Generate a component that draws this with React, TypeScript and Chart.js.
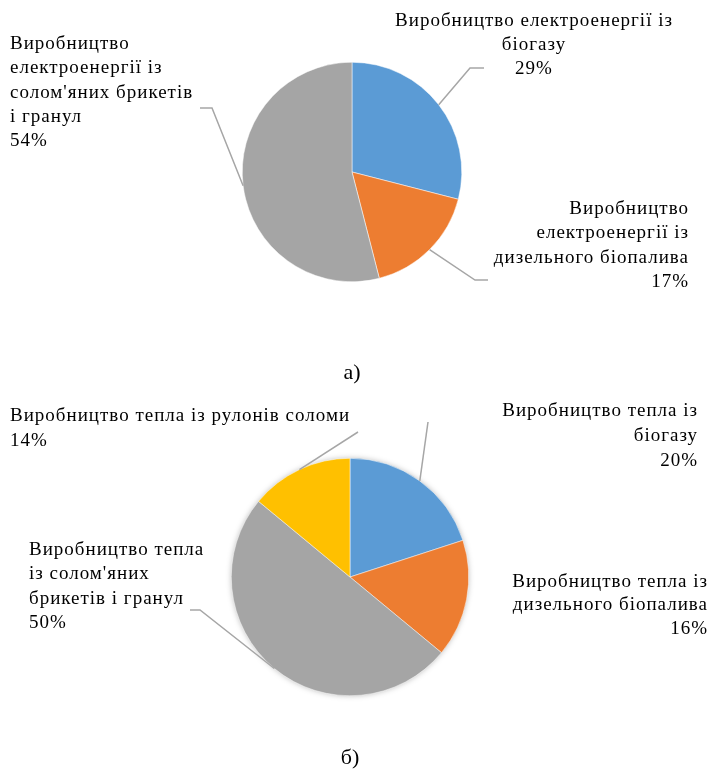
import React, { useEffect, useRef } from "react";
import { Chart, registerables } from "chart.js";

Chart.register(...registerables);

// ---- Data ----
const elecCategories: string[][] = [
  ["Виробництво електроенергії із", "біогазу"],
  ["Виробництво", "електроенергії із", "дизельного біопалива"],
  ["Виробництво", "електроенергії із", "солом'яних брикетів", "і гранул"],
];
const elecValues: number[] = [29, 17, 54];

const heatCategories: string[][] = [
  ["Виробництво тепла із", "біогазу"],
  ["Виробництво тепла із", "дизельного біопалива"],
  ["Виробництво тепла", "із солом'яних", "брикетів і гранул"],
  ["Виробництво тепла із рулонів соломи"],
];
const heatValues: number[] = [20, 16, 50, 14];

const elecColors = ["#5B9BD5", "#ED7D31", "#A5A5A5"];
const heatColors = ["#5B9BD5", "#ED7D31", "#A5A5A5", "#FFC000"];

const FONT = '19px "Liberation Serif", "Times New Roman", serif';

type LabelLayout = {
  align: CanvasTextAlign;
  x: number;
  y: number;
  lineHeight: number;
  leader?: { elbow: [number, number]; end: [number, number] };
};

// ---- Layout (canvas coordinates) ----
const elecLayout: LabelLayout[] = [
  { align: "center", x: 534, y: 21, lineHeight: 24, leader: { elbow: [470, 68], end: [484, 68] } },
  { align: "right", x: 689, y: 209, lineHeight: 24.5, leader: { elbow: [475, 280], end: [488, 280] } },
  { align: "left", x: 10, y: 44, lineHeight: 24.3, leader: { elbow: [212, 108], end: [200, 108] } },
];

const heatLayout: LabelLayout[] = [
  { align: "right", x: 698, y: 31, lineHeight: 25, leader: { elbow: [428, 42], end: [428, 42] } },
  { align: "right", x: 708, y: 202, lineHeight: 23.5 },
  { align: "left", x: 29, y: 170, lineHeight: 24.5, leader: { elbow: [200, 230], end: [190, 230] } },
  { align: "left", x: 10, y: 36, lineHeight: 25, leader: { elbow: [358, 52], end: [358, 52] } },
];

const pieShadowPlugin = {
  id: "pieShadow",
  beforeDatasetsDraw(chart: any, _args: any, opts: any) {
    if (!opts || !opts.enabled) return;
    const meta = chart.getDatasetMeta(0);
    const arc = meta.data[0];
    if (!arc) return;
    const p = arc.getProps(["x", "y", "outerRadius"], true);
    const ctx: CanvasRenderingContext2D = chart.ctx;
    ctx.save();
    ctx.shadowColor = "rgba(0,0,0,0.35)";
    ctx.shadowBlur = 6;
    ctx.beginPath();
    ctx.arc(p.x, p.y, p.outerRadius - 1, 0, Math.PI * 2);
    ctx.fillStyle = "#A5A5A5";
    ctx.fill();
    ctx.restore();
  },
};

const sliceLabelPlugin = {
  id: "sliceLabels",
  afterDraw(chart: any, _args: any, opts: any) {
    const ctx: CanvasRenderingContext2D = chart.ctx;
    const meta = chart.getDatasetMeta(0);
    const layout: LabelLayout[] = opts.layout || [];
    const cats: string[][] = opts.categories || [];
    const values: number[] = chart.data.datasets[0].data;
    ctx.save();
    layout.forEach((item, i) => {
      const arc = meta.data[i];
      if (!arc) return;
      const p = arc.getProps(["x", "y", "startAngle", "endAngle", "outerRadius"], true);
      const mid = (p.startAngle + p.endAngle) / 2;
      if (item.leader) {
        const sx = p.x + Math.cos(mid) * p.outerRadius;
        const sy = p.y + Math.sin(mid) * p.outerRadius;
        ctx.beginPath();
        ctx.strokeStyle = "#A6A6A6";
        ctx.lineWidth = 1.5;
        ctx.moveTo(sx, sy);
        ctx.lineTo(item.leader.elbow[0], item.leader.elbow[1]);
        ctx.lineTo(item.leader.end[0], item.leader.end[1]);
        ctx.stroke();
      }
      const lines = [...(cats[i] || []), `${values[i]}%`];
      ctx.font = FONT;
      (ctx as any).letterSpacing = "1px";
      ctx.fillStyle = "#000000";
      ctx.textAlign = item.align;
      ctx.textBaseline = "middle";
      lines.forEach((ln, k) => {
        ctx.fillText(ln, item.x, item.y + k * item.lineHeight);
      });
    });
    ctx.restore();
  },
};

function PieChart(props: {
  categories: string[][];
  values: number[];
  colors: string[];
  layout: LabelLayout[];
  shadow: boolean;
  width: number;
  height: number;
  padding: { left: number; right: number; top: number; bottom: number };
}) {
  const ref = useRef<HTMLCanvasElement | null>(null);
  useEffect(() => {
    if (!ref.current) return;
    const chart = new Chart(ref.current, {
      type: "pie",
      data: {
        labels: props.categories.map((c) => c.join(" ")),
        datasets: [
          {
            data: props.values,
            backgroundColor: props.colors,
            borderColor: "#FFFFFF",
            borderWidth: 0.5,
          },
        ],
      },
      options: {
        responsive: false,
        animation: false,
        layout: { padding: props.padding },
        plugins: {
          legend: { display: false },
          tooltip: { enabled: false },
          pieShadow: { enabled: props.shadow },
          sliceLabels: { layout: props.layout, categories: props.categories },
        } as any,
      },
      plugins: [pieShadowPlugin, sliceLabelPlugin],
    });
    return () => chart.destroy();
  }, []);
  return (
    <canvas
      ref={ref}
      width={props.width}
      height={props.height}
      style={{ display: "block", width: props.width, height: props.height }}
    />
  );
}

const captionStyle: React.CSSProperties = {
  position: "absolute",
  width: 80,
  textAlign: "center",
  fontFamily: '"Liberation Serif", "Times New Roman", serif',
  fontSize: 22,
  lineHeight: "24px",
  color: "#000",
};

export default function App() {
  return (
    <div
      style={{
        position: "absolute",
        left: 0,
        top: 0,
        width: 708,
        height: 771,
        background: "#FFFFFF",
        overflow: "hidden",
      }}
    >
      <div style={{ position: "absolute", left: 0, top: 0 }}>
        <PieChart
          categories={elecCategories}
          values={elecValues}
          colors={elecColors}
          layout={elecLayout}
          shadow={false}
          width={708}
          height={360}
          padding={{ left: 242, right: 246, top: 62, bottom: 78 }}
        />
      </div>
      <div style={{ ...captionStyle, left: 312, top: 360 }}>а)</div>
      <div style={{ position: "absolute", left: 0, top: 380 }}>
        <PieChart
          categories={heatCategories}
          values={heatValues}
          colors={heatColors}
          layout={heatLayout}
          shadow={true}
          width={708}
          height={391}
          padding={{ left: 231, right: 239, top: 78, bottom: 75 }}
        />
      </div>
      <div style={{ ...captionStyle, left: 310, top: 745 }}>б)</div>
    </div>
  );
}
